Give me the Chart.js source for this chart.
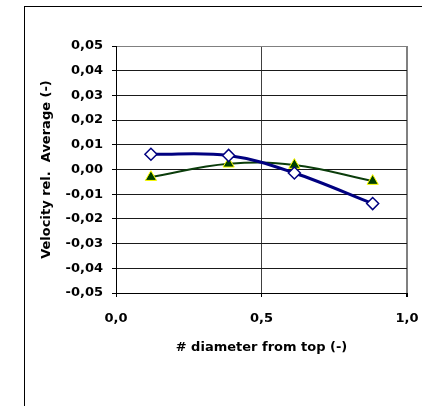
<!DOCTYPE html>
<html>
<head>
<meta charset="utf-8">
<title>Velocity rel. Average</title>
<script src="https://cdn.jsdelivr.net/npm/chart.js@4/dist/chart.umd.min.js"></script>
<style>
	body { margin: 0; background: #fff; overflow: hidden; }
	#frame { position: absolute; left: 24px; top: 6px; width: 420px; height: 420px; border: 1px solid #000; }
	#canvas { position: absolute; left: 0; top: 0; }
</style>
</head>
<body>
<div id="frame"></div>
<canvas id="canvas" width="422" height="406"></canvas>
<script>
// posities langs de diameter
var positions = [ 0.12, 0.387, 0.613, 0.882 ];
// serie 1 (blauwe ruiten)
var seriesDiamond = [ 0.0062, 0.0057, -0.0014, -0.0138 ];
// serie 2 (groene driehoeken)
var seriesTriangle = [ -0.0031, 0.0023, 0.0018, -0.0047 ];

var yTicks = { min : -0.05, max : 0.05, step : 0.01 };
var xTicks = { min : 0, max : 1, step : 0.5 };

var yTitle = 'Velocity rel.  Average (-)';
var xTitle = '# diameter from top (-)';

function toPoints(xs, ys) {
	return xs.map(function(x, i) {
		return { x : x, y : ys[i] };
	});
}

function comma(v, digits) {
	if (Math.abs(v) < 1e-9) v = 0;
	return v.toFixed(digits).replace('.', ',');
}

var font = { family : 'DejaVu Sans', size : 13, weight : 'bold' };

var config = {
	type : 'scatter',
	data : {
		datasets : [ {
			label : 'diamond',
			data : toPoints(positions, seriesDiamond),
			showLine : true,
			tension : 0.36,
			borderColor : '#000080',
			borderWidth : 3,
			pointStyle : 'rectRot',
			pointRadius : 6,
			pointBackgroundColor : '#ffffff',
			pointBorderColor : '#000080',
			pointBorderWidth : 1.5
		}, {
			label : 'triangle',
			data : toPoints(positions, seriesTriangle),
			showLine : true,
			tension : 0.4,
			borderColor : '#0b3d0b',
			borderWidth : 2,
			pointStyle : 'triangle',
			pointRadius : 6.5,
			pointBackgroundColor : '#004000',
			pointBorderColor : '#ffff00',
			pointBorderWidth : 1
		} ]
	},
	options : {
		responsive : false,
		animation : false,
		devicePixelRatio : 1,
		layout : {
			padding : { left : 0, top : 46, right : 15, bottom : 0 }
		},
		plugins : {
			legend : { display : false },
			tooltip : { enabled : false }
		},
		scales : {
			x : {
				type : 'linear',
				min : xTicks.min,
				max : xTicks.max,
				afterFit : function(scale) {
					scale.height = 113;
					scale.paddingLeft = 0;
					scale.paddingRight = 0;
				},
				ticks : {
					stepSize : xTicks.step,
					padding : 14,
					color : '#000',
					font : font,
					maxRotation : 0,
					callback : function(v) {
						return comma(v, 1);
					}
				},
				grid : {
					color : function(ctx) {
						if (ctx.tick && ctx.tick.value === 1) return '#808080';
						return '#404040';
					},
					lineWidth : function(ctx) {
						if (ctx.tick && ctx.tick.value === 1) return 2;
						return 1;
					},
					tickColor : '#000',
					tickLength : 4
				},
				border : { color : '#000', width : 1 },
				title : {
					display : true,
					text : xTitle,
					color : '#000',
					font : font,
					padding : { top : 0, bottom : 51 }
				}
			},
			y : {
				type : 'linear',
				min : yTicks.min,
				max : yTicks.max,
				afterFit : function(scale) {
					scale.width = 116;
					scale.paddingTop = 0;
					scale.paddingBottom = 0;
				},
				ticks : {
					stepSize : yTicks.step,
					padding : 9,
					color : '#000',
					font : font,
					callback : function(v) {
						return comma(v, 2);
					}
				},
				grid : {
					color : function(ctx) {
						if (ctx.tick && Math.abs(ctx.tick.value - 0.05) < 1e-9) return '#808080';
						return '#1a1a1a';
					},
					tickColor : '#000',
					tickLength : 4
				},
				border : { color : '#000', width : 1 },
				title : {
					display : true,
					text : yTitle,
					color : '#000',
					font : font,
					padding : { top : 39, bottom : 0 }
				}
			}
		}
	}
};

window.onload = function() {
	var ctx = document.getElementById('canvas').getContext('2d');
	window.myChart = new Chart(ctx, config);
};
</script>
</body>
</html>
